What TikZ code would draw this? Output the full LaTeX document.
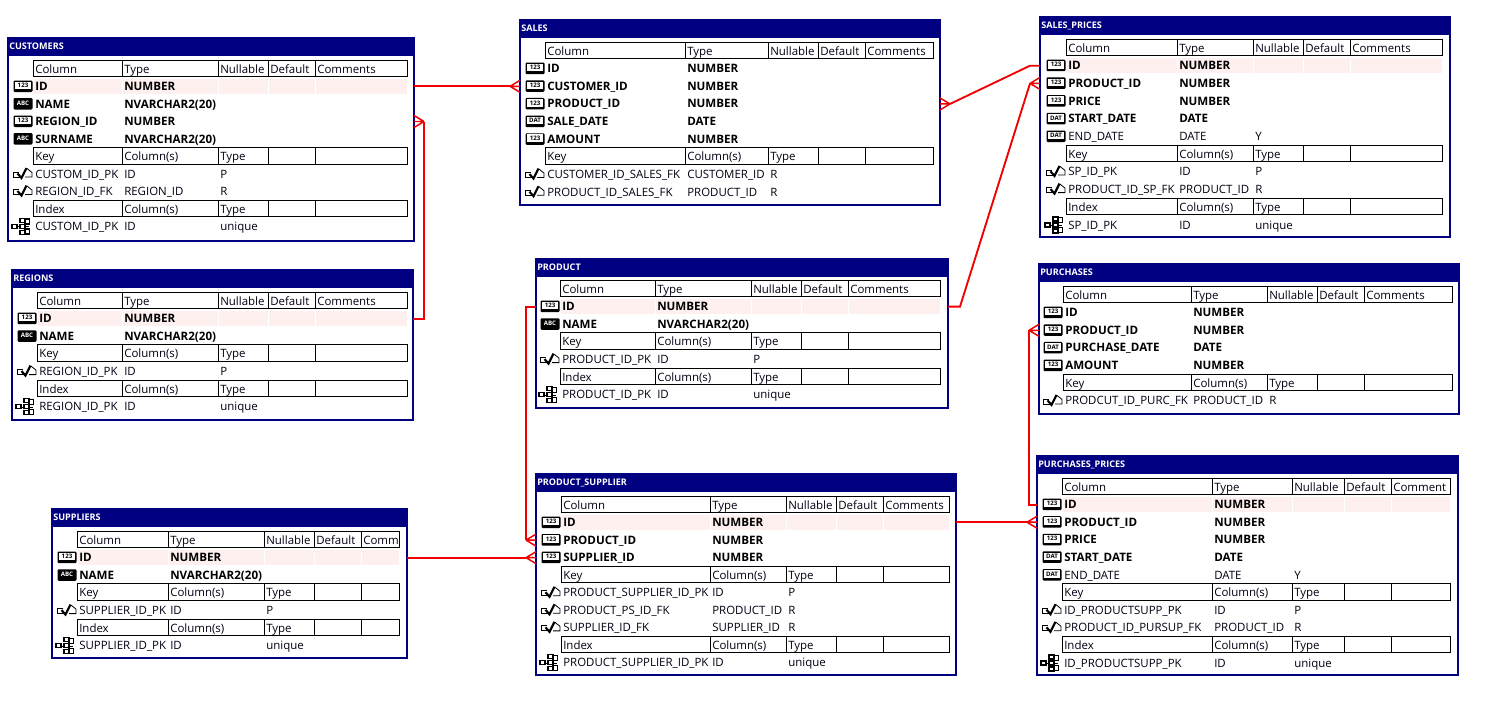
\documentclass[tikz,border=0pt]{standalone}
\usepackage{fontspec}
\setmainfont{Open Sans}
\definecolor{navy}{HTML}{000080}
\definecolor{rowpink}{HTML}{FDF0EE}
\definecolor{relred}{HTML}{F00000}
\tikzset{
  tablebox/.style={draw=navy,line width=1.5pt,fill=white,anchor=north west,inner sep=0pt,outer sep=0pt},
  titletext/.style={text=white,font=\fontsize{6.8}{8}\selectfont\bfseries,anchor=base west,inner sep=0pt},
  cell/.style={draw=black,line width=0.75pt},
  ctext/.style={text=black!85!navy,font=\fontsize{8.6}{10}\selectfont,anchor=base west,inner sep=0pt},
  btext/.style={text=black,font=\fontsize{8.7}{10}\selectfont\bfseries,anchor=base west,inner sep=0pt},
  icontext/.style={font=\fontsize{4.6}{5}\selectfont\bfseries,inner sep=0pt,anchor=center},
  rel/.style={draw=relred,line width=1.4pt,line join=miter},
  prong/.style={draw=relred,line width=1.1pt},
}
\def\parsecols#1,#2,#3,#4,#5,#6\relax{\def\ca{#1}\def\cb{#2}\def\cc{#3}\def\cd{#4}\def\ce{#5}\def\cf{#6}}
\def\rowpitch{17.65}
% name,title,x0,x1,ytop,ybot,columns,header y
\newcommand{\tbl}[8]{%
  \def\tn{#1}\parsecols#7\relax
  \pgfmathsetlengthmacro\tabw{(#4-#3)*0.75pt}\pgfmathsetlengthmacro\tabh{(#6-#5)*0.75pt}%
  \node[tablebox,minimum width=\tabw,minimum height=\tabh] (#1) at (#3,#5) {};
  \fill[navy] (#3,#5) rectangle (#4,#5+18);
  \node[titletext] (#1-title) at (#3+1,#5+11.5) {#2};
  \def\rowy{#8}\def\rown{0}}
\newcommand{\nextrow}{\pgfmathsetmacro\rowy{\rowy+\rowpitch}\pgfmathtruncatemacro\rown{\rown+1}}
\newcommand{\hdr}[5]{%
  \foreach \p/\q in {\ca/\cb,\cb/\cc,\cc/\cd,\cd/\ce,\ce/\cf}{\draw[cell,fill=white] (\p,\rowy-9) rectangle (\q,\rowy+7.5);}
  \node[ctext] (\tn-h\rown a) at (\ca+2,\rowy+4) {#1};
  \node[ctext] (\tn-h\rown b) at (\cb+2,\rowy+4) {#2};
  \node[ctext] (\tn-h\rown c) at (\cc+2,\rowy+4) {#3};
  \node[ctext] (\tn-h\rown d) at (\cd+2,\rowy+4) {#4};
  \node[ctext] (\tn-h\rown e) at (\ce+2,\rowy+4) {#5};
  \nextrow}
\newcommand{\pinkrow}{%
  \foreach \p/\q in {\ca/\cb,\cb/\cc,\cc/\cd,\cd/\ce,\ce/\cf}{\fill[rowpink] (\p+1,\rowy-7.5) rectangle (\q,\rowy+7);}}
\newcommand{\iconnum}[1]{%
  \fill[black,rounded corners=0.8pt] (\ca-19.5,\rowy-6) rectangle (\ca-0.5,\rowy+5.5);
  \fill[white] (\ca-18,\rowy-4.8) rectangle (\ca-2.2,\rowy+2.8);
  \node[icontext,text=black] (\tn-i\rown) at (\ca-10,\rowy-1) {#1};}
\newcommand{\iconabc}[1]{%
  \fill[black,rounded corners=0.8pt] (\ca-19.5,\rowy-6) rectangle (\ca-0.5,\rowy+5.5);
  \node[icontext,text=white] (\tn-i\rown) at (\ca-10,\rowy-1) {#1};}
% column row: icon kind (1=123,2=ABC,3=DAT)
\newcommand{\crow}[4]{%
  \coordinate (\tn-r\rown) at (\ca,\rowy);
  \ifcase#1\or\iconnum{123}\or\iconabc{ABC}\or\iconnum{DAT}\fi
  \node[#4] (\tn-n\rown) at (\ca+2,\rowy+4) {#2};
  \node[#4] (\tn-t\rown) at (\cb+2,\rowy+4) {#3};
  \nextrow}
\newcommand{\keyicon}{%
  \draw[black,line width=0.6pt] (\ca-11,\rowy+3) -- (\ca-20,\rowy+3) -- (\ca-20,\rowy-2) -- (\ca-14,\rowy-2);
  \draw[black,line width=0.6pt] (\ca-6,\rowy-5.5) -- (\ca-1,\rowy-1.5) -- (\ca-1,\rowy+3) -- (\ca-8,\rowy+3);
  \draw[black,line width=1.6pt] (\ca-15.5,\rowy-0.5) -- (\ca-11.5,\rowy+4) -- (\ca-6.5,\rowy-6);}
\newcommand{\idxicon}{%
  \draw[black,line width=0.6pt] (\ca-18,\rowy) -- (\ca-4,\rowy) (\ca-9,\rowy-6) -- (\ca-9,\rowy+6);
  \draw[black,line width=0.8pt,fill=white] (\ca-21,\rowy-2) rectangle (\ca-16,\rowy+2);
  \foreach \b in {-6,0,6}{\draw[black,line width=0.8pt,fill=white] (\ca-13,\rowy+\b-2) rectangle (\ca-8,\rowy+\b+2);}
  \foreach \b in {-5,5}{\draw[black,line width=0.8pt,fill=white] (\ca-8,\rowy+\b-2.5) rectangle (\ca-3.5,\rowy+\b+2.5);}}
\newcommand{\krow}[3]{%
  \coordinate (\tn-r\rown) at (\ca,\rowy);
  \keyicon
  \node[ctext] (\tn-n\rown) at (\ca+2,\rowy+4) {#1};
  \node[ctext] (\tn-t\rown) at (\cb+2,\rowy+4) {#2};
  \node[ctext] (\tn-k\rown) at (\cc+2,\rowy+4) {#3};
  \nextrow}
\newcommand{\irow}[3]{%
  \coordinate (\tn-r\rown) at (\ca,\rowy);
  \idxicon
  \node[ctext] (\tn-n\rown) at (\ca+2,\rowy+4) {#1};
  \node[ctext] (\tn-t\rown) at (\cb+2,\rowy+4) {#2};
  \node[ctext] (\tn-k\rown) at (\cc+2,\rowy+4) {#3};
  \nextrow}
\newcommand{\yflag}[1]{\node[ctext] (\tn-y\rown) at (\cc+2,\rowy+4) {#1};}
% coordinate on box side, dir +1 apex to the right, -1 to the left
\newcommand{\relfoot}[2]{%
  \coordinate (#1-apex) at ([xshift=#2*7.5pt]#1);
  \draw[prong] (#1-apex) -- ([yshift=-4.5pt]#1) (#1-apex) -- (#1) (#1-apex) -- ([yshift=4.5pt]#1);}
\begin{document}
\begin{tikzpicture}[x=0.75pt,y=-0.75pt]
\useasboundingbox (0,0) rectangle (1485,718);
\fill[white] (0,0) rectangle (1485,718);

% CUSTOMERS
\def\rowpitch{17.5}
\tbl{cust}{CUSTOMERS}{8}{414}{38}{241}{33,122,218,268,315,407}{69}
\hdr{Column}{Type}{Nullable}{Default}{Comments}
\pinkrow
\crow{1}{ID}{NUMBER}{btext}
\crow{2}{NAME}{NVARCHAR2(20)}{btext}
\crow{1}{REGION\_ID}{NUMBER}{btext}
\crow{2}{SURNAME}{NVARCHAR2(20)}{btext}
\hdr{Key}{Column(s)}{Type}{}{}
\krow{CUSTOM\_ID\_PK}{ID}{P}
\krow{REGION\_ID\_FK}{REGION\_ID}{R}
\hdr{Index}{Column(s)}{Type}{}{}
\irow{CUSTOM\_ID\_PK}{ID}{unique}
\def\rowpitch{17.65}

% REGIONS
\tbl{reg}{REGIONS}{12}{413}{270}{420}{37,122,218,268,315,407}{301}
\hdr{Column}{Type}{Nullable}{Default}{Comments}
\pinkrow
\crow{1}{ID}{NUMBER}{btext}
\crow{2}{NAME}{NVARCHAR2(20)}{btext}
\hdr{Key}{Column(s)}{Type}{}{}
\krow{REGION\_ID\_PK}{ID}{P}
\hdr{Index}{Column(s)}{Type}{}{}
\irow{REGION\_ID\_PK}{ID}{unique}

% SUPPLIERS
\tbl{supp}{SUPPLIERS}{52}{407}{509}{658}{77,168,264,314,361,399}{540}
\hdr{Column}{Type}{Nullable}{Default}{Comm}
\pinkrow
\crow{1}{ID}{NUMBER}{btext}
\crow{2}{NAME}{NVARCHAR2(20)}{btext}
\hdr{Key}{Column(s)}{Type}{}{}
\krow{SUPPLIER\_ID\_PK}{ID}{P}
\hdr{Index}{Column(s)}{Type}{}{}
\irow{SUPPLIER\_ID\_PK}{ID}{unique}

% SALES
\tbl{sales}{SALES}{520}{940}{20}{205}{545,685,768,818,865,933}{51}
\hdr{Column}{Type}{Nullable}{Default}{Comments}
\crow{1}{ID}{NUMBER}{btext}
\crow{1}{CUSTOMER\_ID}{NUMBER}{btext}
\crow{1}{PRODUCT\_ID}{NUMBER}{btext}
\crow{3}{SALE\_DATE}{DATE}{btext}
\crow{1}{AMOUNT}{NUMBER}{btext}
\hdr{Key}{Column(s)}{Type}{}{}
\krow{CUSTOMER\_ID\_SALES\_FK}{CUSTOMER\_ID}{R}
\krow{PRODUCT\_ID\_SALES\_FK}{PRODUCT\_ID}{R}

% PRODUCT
\tbl{prod}{PRODUCT}{536}{948}{259}{408}{560,655,751,801,848,940}{289}
\hdr{Column}{Type}{Nullable}{Default}{Comments}
\pinkrow
\crow{1}{ID}{NUMBER}{btext}
\crow{2}{NAME}{NVARCHAR2(20)}{btext}
\hdr{Key}{Column(s)}{Type}{}{}
\krow{PRODUCT\_ID\_PK}{ID}{P}
\hdr{Index}{Column(s)}{Type}{}{}
\irow{PRODUCT\_ID\_PK}{ID}{unique}

% PRODUCT_SUPPLIER
\def\rowpitch{17.55}
\tbl{ps}{PRODUCT\_SUPPLIER}{536}{956}{474}{675}{561,710,786,836,883,949}{505}
\hdr{Column}{Type}{Nullable}{Default}{Comments}
\pinkrow
\crow{1}{ID}{NUMBER}{btext}
\crow{1}{PRODUCT\_ID}{NUMBER}{btext}
\crow{1}{SUPPLIER\_ID}{NUMBER}{btext}
\hdr{Key}{Column(s)}{Type}{}{}
\krow{PRODUCT\_SUPPLIER\_ID\_PK}{ID}{P}
\krow{PRODUCT\_PS\_ID\_FK}{PRODUCT\_ID}{R}
\krow{SUPPLIER\_ID\_FK}{SUPPLIER\_ID}{R}
\hdr{Index}{Column(s)}{Type}{}{}
\irow{PRODUCT\_SUPPLIER\_ID\_PK}{ID}{unique}
\def\rowpitch{17.7}

% SALES_PRICES
\tbl{sp}{SALES\_PRICES}{1040}{1450}{17}{237}{1066,1177,1253,1303,1350,1442}{48}
\hdr{Column}{Type}{Nullable}{Default}{Comments}
\pinkrow
\crow{1}{ID}{NUMBER}{btext}
\crow{1}{PRODUCT\_ID}{NUMBER}{btext}
\crow{1}{PRICE}{NUMBER}{btext}
\crow{3}{START\_DATE}{DATE}{btext}
\yflag{Y}
\crow{3}{END\_DATE}{DATE}{ctext}
\hdr{Key}{Column(s)}{Type}{}{}
\krow{SP\_ID\_PK}{ID}{P}
\krow{PRODUCT\_ID\_SP\_FK}{PRODUCT\_ID}{R}
\hdr{Index}{Column(s)}{Type}{}{}
\irow{SP\_ID\_PK}{ID}{unique}
\def\rowpitch{17.65}

% PURCHASES
\tbl{pur}{PURCHASES}{1039}{1459}{264}{414}{1063,1191,1267,1317,1364,1452}{295}
\hdr{Column}{Type}{Nullable}{Default}{Comments}
\crow{1}{ID}{NUMBER}{btext}
\crow{1}{PRODUCT\_ID}{NUMBER}{btext}
\crow{3}{PURCHASE\_DATE}{DATE}{btext}
\crow{1}{AMOUNT}{NUMBER}{btext}
\hdr{Key}{Column(s)}{Type}{}{}
\krow{PRODCUT\_ID\_PURC\_FK}{PRODUCT\_ID}{R}

% PURCHASES_PRICES
\def\rowpitch{17.6}
\tbl{pp}{PURCHASES\_PRICES}{1037}{1458}{456}{675}{1062,1212,1292,1344,1391,1450}{487}
\hdr{Column}{Type}{Nullable}{Default}{Comment}
\pinkrow
\crow{1}{ID}{NUMBER}{btext}
\crow{1}{PRODUCT\_ID}{NUMBER}{btext}
\crow{1}{PRICE}{NUMBER}{btext}
\crow{3}{START\_DATE}{DATE}{btext}
\yflag{Y}
\crow{3}{END\_DATE}{DATE}{ctext}
\hdr{Key}{Column(s)}{Type}{}{}
\krow{ID\_PRODUCTSUPP\_PK}{ID}{P}
\krow{PRODUCT\_ID\_PURSUP\_FK}{PRODUCT\_ID}{R}
\hdr{Index}{Column(s)}{Type}{}{}
\irow{ID\_PRODUCTSUPP\_PK}{ID}{unique}

% Connectors
\coordinate (f1) at (sales.west |- sales-r2);
\relfoot{f1}{-1}
\draw[rel] (cust.east |- f1) -- (f1-apex);

\coordinate (f2) at (cust.east |- cust-r3);
\relfoot{f2}{1}
\draw[rel] (reg.east |- reg-r1) -| (f2-apex);

\coordinate (f3) at (sales.east |- sales-r3);
\relfoot{f3}{1}
\coordinate (b3) at ([xshift=-7.5pt]sp.west |- sp-r1);
\draw[rel] (sp.west |- sp-r1) -- (b3) -- (f3-apex);

\coordinate (f4) at (sp.west |- sp-r2);
\relfoot{f4}{-1}
\coordinate (b4) at ([xshift=9pt]prod.east |- prod-r1);
\draw[rel] (prod.east |- prod-r1) -- (b4) -- (f4-apex);

\coordinate (f5) at (ps.west |- ps-r2);
\relfoot{f5}{-1}
\draw[rel] (prod.west |- prod-r1) -| (f5-apex);

\coordinate (f6) at (ps.west |- ps-r3);
\relfoot{f6}{-1}
\draw[rel] (supp.east |- f6) -- (f6-apex);

\coordinate (f7) at (pp.west |- pp-r2);
\relfoot{f7}{-1}
\draw[rel] (ps.east |- f7) -- (f7-apex);

\coordinate (f8) at (pur.west |- pur-r2);
\relfoot{f8}{-1}
\draw[rel] (pp.west |- pp-r1) -| (f8-apex);
\end{tikzpicture}
\end{document}
